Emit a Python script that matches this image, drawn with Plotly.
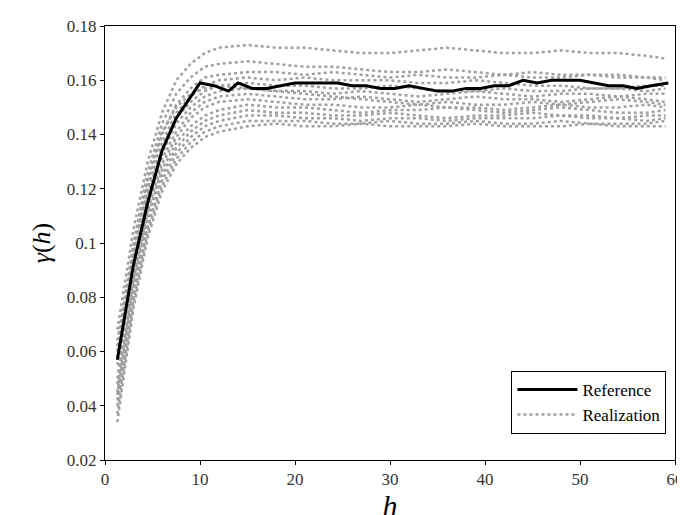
import plotly.graph_objects as go

ref_h = [1.3,3,4.5,6,7.5,9,10,11.5,13,14,15.5,17,18.5,20,21.5,23,24.5,26,27.5,29,30.5,32,33.5,35,36.5,38,39.5,41,42.5,44,45.5,47,48.5,50,51.5,53,54.5,56,57.5,59.3]
ref_g = [0.057,0.092,0.115,0.134,0.146,0.154,0.159,0.158,0.156,0.159,0.157,0.157,0.158,0.159,0.159,0.159,0.159,0.158,0.158,0.157,0.157,0.158,0.157,0.156,0.156,0.157,0.157,0.158,0.158,0.160,0.159,0.160,0.160,0.160,0.159,0.158,0.158,0.157,0.158,0.159]

real_h = [1.3,3,4.5,6,7.5,9,10.5,12,15,18,21,24,27,30,33,36,39,42,45,48,51,54,57,59]
realizations = [
 [0.068,0.105,0.130,0.148,0.160,0.166,0.170,0.172,0.173,0.172,0.172,0.171,0.170,0.170,0.171,0.172,0.171,0.170,0.170,0.171,0.170,0.170,0.169,0.168],
 [0.062,0.100,0.126,0.144,0.155,0.161,0.165,0.166,0.167,0.166,0.165,0.165,0.164,0.163,0.163,0.164,0.163,0.162,0.163,0.162,0.162,0.161,0.161,0.160],
 [0.060,0.097,0.122,0.140,0.151,0.157,0.161,0.162,0.163,0.163,0.162,0.163,0.162,0.161,0.162,0.161,0.161,0.162,0.161,0.161,0.162,0.162,0.161,0.161],
 [0.058,0.095,0.120,0.137,0.148,0.154,0.158,0.160,0.161,0.160,0.161,0.160,0.160,0.160,0.159,0.159,0.160,0.159,0.158,0.158,0.157,0.157,0.158,0.158],
 [0.055,0.093,0.118,0.135,0.146,0.152,0.156,0.158,0.159,0.158,0.158,0.157,0.157,0.158,0.157,0.156,0.156,0.157,0.156,0.156,0.157,0.157,0.156,0.157],
 [0.050,0.090,0.116,0.133,0.144,0.150,0.154,0.156,0.157,0.156,0.156,0.155,0.156,0.155,0.154,0.155,0.156,0.155,0.154,0.155,0.155,0.154,0.155,0.155],
 [0.048,0.088,0.114,0.131,0.141,0.148,0.152,0.154,0.155,0.154,0.153,0.153,0.154,0.153,0.152,0.153,0.154,0.153,0.153,0.152,0.153,0.154,0.153,0.152],
 [0.045,0.086,0.112,0.129,0.139,0.146,0.150,0.152,0.153,0.152,0.151,0.151,0.150,0.150,0.151,0.152,0.151,0.151,0.152,0.151,0.150,0.150,0.151,0.150],
 [0.044,0.084,0.110,0.127,0.137,0.143,0.147,0.149,0.151,0.150,0.150,0.149,0.148,0.149,0.149,0.150,0.149,0.148,0.149,0.150,0.149,0.148,0.148,0.149],
 [0.042,0.082,0.108,0.125,0.135,0.141,0.145,0.147,0.149,0.148,0.148,0.147,0.147,0.148,0.147,0.146,0.147,0.147,0.148,0.147,0.147,0.146,0.147,0.147],
 [0.040,0.080,0.106,0.123,0.133,0.139,0.143,0.145,0.147,0.147,0.146,0.146,0.145,0.146,0.146,0.145,0.146,0.146,0.146,0.147,0.146,0.146,0.145,0.146],
 [0.037,0.078,0.104,0.121,0.131,0.137,0.141,0.143,0.145,0.145,0.145,0.144,0.144,0.145,0.144,0.144,0.145,0.144,0.144,0.145,0.144,0.144,0.144,0.145],
 [0.034,0.076,0.102,0.119,0.129,0.135,0.139,0.141,0.143,0.144,0.143,0.143,0.144,0.143,0.143,0.143,0.144,0.143,0.143,0.143,0.144,0.143,0.143,0.143],
 [0.064,0.098,0.124,0.141,0.150,0.155,0.157,0.158,0.157,0.156,0.155,0.154,0.153,0.152,0.151,0.150,0.150,0.149,0.150,0.151,0.152,0.153,0.152,0.151],
]

fig = go.Figure()
for i, r in enumerate(realizations):
    fig.add_trace(go.Scatter(x=real_h, y=r, mode="lines", line=dict(color="#a0a0a0", width=2.5, dash="dot"),
                             name="Realization", showlegend=(i == 0)))
fig.add_trace(go.Scatter(x=ref_h, y=ref_g, mode="lines", line=dict(color="black", width=3), name="Reference"))

ax = dict(showline=True, mirror=True, linecolor="black", linewidth=1, showgrid=False, zeroline=False,
          ticks="outside", ticklen=4, tickcolor="black", tickfont=dict(size=17, color="#333"))
fig.update_layout(
    width=685, height=515, plot_bgcolor="white", paper_bgcolor="white",
    font=dict(family="Liberation Serif", color="black"),
    margin=dict(l=97, r=9, t=10, b=63),
    xaxis=dict(range=[0, 60], dtick=10, title=dict(text="<i>h</i>", font=dict(size=30), standoff=0), **ax),
    yaxis=dict(range=[0.02, 0.18], dtick=0.02, tickformat="~g", title=dict(text="<i>γ</i>(<i>h</i>)", font=dict(size=26), standoff=8), **ax),
    legend=dict(x=0.985, y=0.06, xanchor="right", yanchor="bottom", bordercolor="black", borderwidth=1,
                bgcolor="white", font=dict(size=17), traceorder="reversed", itemwidth=60),
)
fig.write_html("out.html")
